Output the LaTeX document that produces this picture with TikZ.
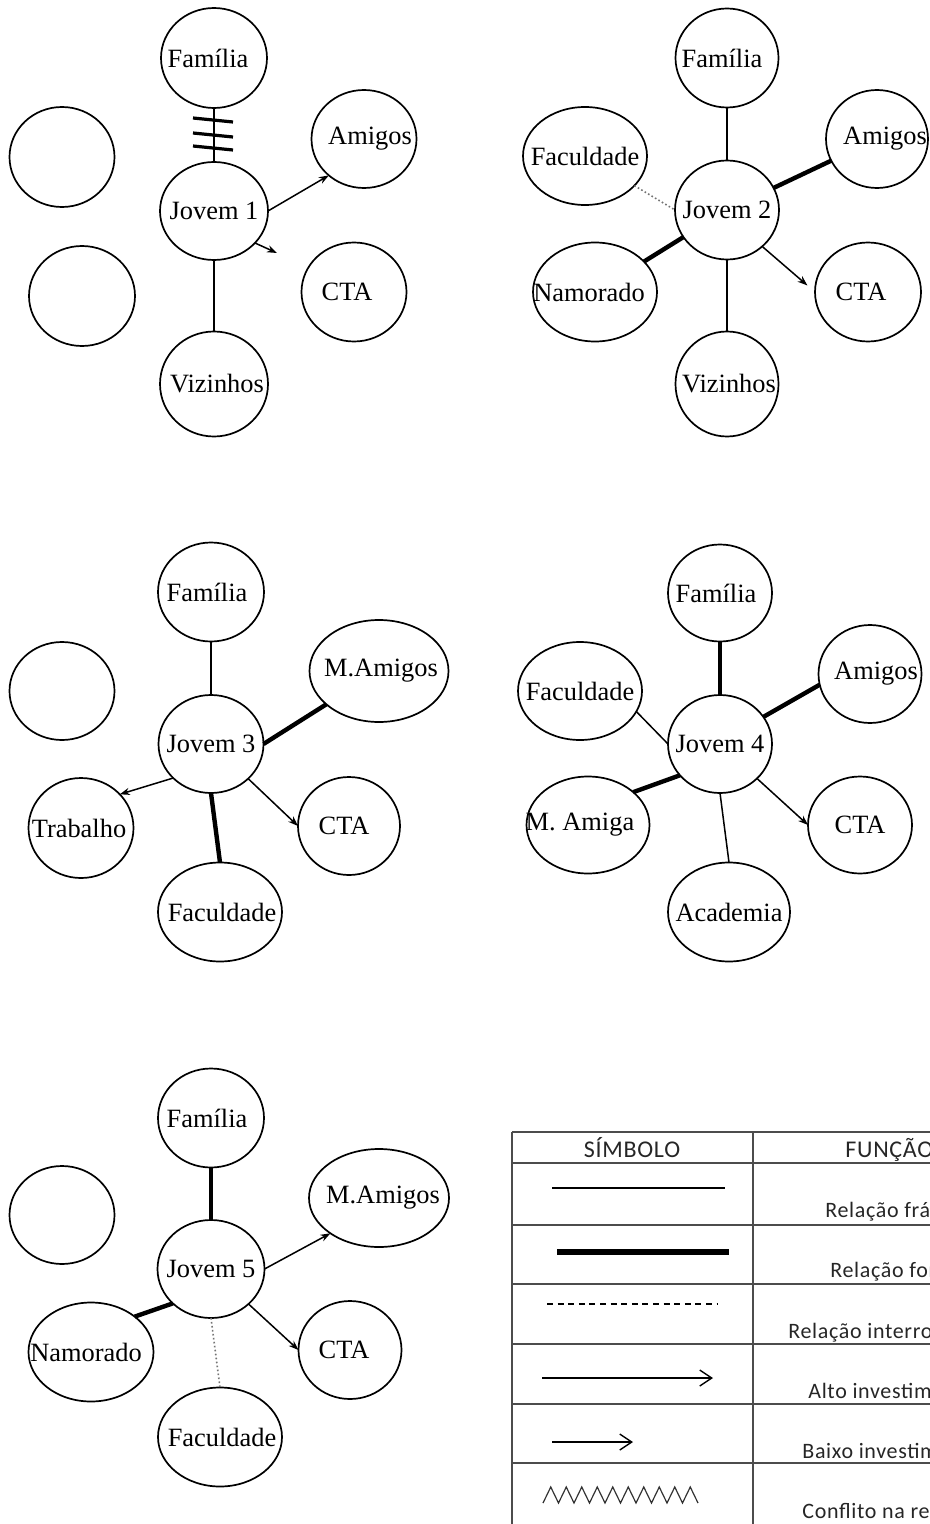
\documentclass[tikz,border=0pt]{standalone}
\usepackage{fontspec}
\setmainfont{Liberation Serif}
\newfontfamily\legfont{Carlito}[LetterSpace=3]
\usetikzlibrary{shapes.geometric,arrows.meta}
\newcommand\tx[2]{\makebox[0pt]{\hspace*{#1}#2\hspace*{-#1}}}
\begin{document}
\begin{tikzpicture}[x=0.5pt,y=-0.5pt,
  ell/.style={ellipse, draw, line width=0.85pt, inner sep=0pt, outer sep=0pt,
    font=\fontsize{13.2}{15}\selectfont},
  thinl/.style={line width=0.75pt},
  strong/.style={line width=2.2pt},
  arr/.style={line width=0.75pt, -{Stealth[length=5pt,width=3.6pt]}},
  dots/.style={line width=0.8pt, black!55, dash pattern=on 0.8pt off 1.2pt},
  hatch/.style={line width=1.6pt},
  tab/.style={line width=1pt, black!70},
  legsym/.style={line width=0.7pt},
  legtxt/.style={inner sep=0pt, anchor=base west, text=black!85,
    font=\legfont\fontsize{11}{13}\selectfont},
  leghead/.style={inner sep=0pt, text=black!85,
    font=\legfont\fontsize{12}{14}\selectfont}]
\useasboundingbox (0,0) rectangle (930,1524);

% ---------- Panel 1 ----------
\node[ell, minimum width=53pt, minimum height=50pt] (fam1) at (214,58) {\tx{-3pt}{Família}};
\node[ell, minimum width=54pt, minimum height=49pt] (j1) at (214,211) {\tx{0pt}{Jovem 1}};
\node[ell, minimum width=52.5pt, minimum height=49pt] (am1) at (364,139) {\tx{3pt}{Amigos}};
\node[ell, minimum width=52.5pt, minimum height=49.5pt] (cta1) at (354,292) {\tx{-3.5pt}{CTA}};
\node[ell, minimum width=54pt, minimum height=52.5pt] (viz1) at (214,384) {\tx{1.5pt}{Vizinhos}};
\node[ell, minimum width=52.5pt, minimum height=50pt] (e1a) at (62,157) {};
\node[ell, minimum width=53pt, minimum height=50pt] (e1b) at (82,296) {};
\coordinate (t1) at (277,253);
\draw[thinl] (fam1) -- (j1);
\draw[hatch] (193,118) -- (233,122);
\draw[hatch] (193,133) -- (233,137);
\draw[hatch] (193,146) -- (233,150);
\draw[arr] (j1.east) -- (am1.226);
\draw[arr] (j1.-38) -- (t1);
\draw[thinl] (j1) -- (viz1);

% ---------- Panel 2 ----------
\node[ell, minimum width=51.5pt, minimum height=49.5pt] (fam2) at (727,58) {\tx{-2.5pt}{Família}};
\node[ell, minimum width=51pt, minimum height=49pt] (am2) at (877,139) {\tx{4pt}{Amigos}};
\node[ell, minimum width=62pt, minimum height=49pt] (fac2) at (585,156) {\tx{0pt}{Faculdade}};
\node[ell, minimum width=52pt, minimum height=49.5pt] (j2) at (727,210) {\tx{0pt}{Jovem 2}};
\node[ell, minimum width=62pt, minimum height=49.5pt] (nam2) at (595,292) {\tx{-3pt}{Namorado}};
\node[ell, minimum width=53pt, minimum height=49.5pt] (cta2) at (868,292) {\tx{-3.5pt}{CTA}};
\node[ell, minimum width=51.5pt, minimum height=52.5pt] (viz2) at (727,384) {\tx{1pt}{Vizinhos}};
\draw[thinl] (fam2) -- (j2);
\draw[strong] (j2) -- (am2);
\draw[dots] (fac2) -- (j2.west);
\draw[strong] (j2) -- (nam2);
\draw[arr, shorten >=5pt] (j2.-46) -- (cta2.west);
\draw[thinl] (j2) -- (viz2);

% ---------- Panel 3 ----------
\node[ell, minimum width=53pt, minimum height=49.5pt] (fam3) at (211,592) {\tx{-2pt}{Família}};
\node[ell, minimum width=52.5pt, minimum height=49pt] (e3) at (62,691) {};
\node[ell, minimum width=69.5pt, minimum height=51pt] (mam3) at (379,671) {\tx{1pt}{M.Amigos}};
\node[ell, minimum width=52.5pt, minimum height=49pt] (j3) at (211,744) {\tx{0pt}{Jovem 3}};
\node[ell, minimum width=52.5pt, minimum height=50pt] (trab3) at (81,828) {\tx{-1pt}{Trabalho}};
\node[ell, minimum width=51pt, minimum height=49pt] (cta3) at (349,826) {\tx{-2.5pt}{CTA}};
\node[ell, minimum width=62pt, minimum height=49.5pt] (fac3) at (220,912) {\tx{1pt}{Faculdade}};
\draw[thinl] (fam3) -- (j3);
\draw[strong] (j3.east) -- (mam3);
\draw[arr] (j3.222) -- (trab3.41);
\draw[strong] (j3.south) -- (fac3.north);
\draw[arr] (j3.-43) -- (cta3.west);

% ---------- Panel 4 ----------
\node[ell, minimum width=52pt, minimum height=48.5pt] (fam4) at (720,593) {\tx{-2pt}{Família}};
\node[ell, minimum width=51.5pt, minimum height=49pt] (am4) at (870,674) {\tx{3pt}{Amigos}};
\node[ell, minimum width=62pt, minimum height=49pt] (fac4) at (580,691) {\tx{0pt}{Faculdade}};
\node[ell, minimum width=52pt, minimum height=49pt] (j4) at (720,744) {\tx{0pt}{Jovem 4}};
\node[ell, minimum width=61.5pt, minimum height=48.5pt] (mam4) at (588,825) {\tx{-4pt}{M. Amiga}};
\node[ell, minimum width=52pt, minimum height=48.5pt] (cta4) at (860,825) {\tx{0pt}{CTA}};
\node[ell, minimum width=61pt, minimum height=49.5pt] (acad4) at (729,912) {\tx{0pt}{Academia}};
\draw[strong] (fam4) -- (j4);
\draw[thinl] (fac4.-20) -- (j4.west);
\draw[strong] (j4.32) -- (am4.192);
\draw[strong] (j4.218) -- (mam4.36);
\draw[arr] (j4.-43) -- (cta4.west);
\draw[thinl] (j4.south) -- (acad4.north);

% ---------- Panel 5 ----------
\node[ell, minimum width=53pt, minimum height=49.5pt] (fam5) at (211,1118) {\tx{-2pt}{Família}};
\node[ell, minimum width=52.5pt, minimum height=49pt] (e5) at (62,1215) {};
\node[ell, minimum width=70pt, minimum height=49pt] (mam5) at (379,1198) {\tx{2pt}{M.Amigos}};
\node[ell, minimum width=53.5pt, minimum height=49pt] (j5) at (211,1269) {\tx{0pt}{Jovem 5}};
\node[ell, minimum width=62.5pt, minimum height=49.5pt] (nam5) at (91,1352) {\tx{-2.5pt}{Namorado}};
\node[ell, minimum width=51.5pt, minimum height=49pt] (cta5) at (350,1350) {\tx{-3pt}{CTA}};
\node[ell, minimum width=62pt, minimum height=49.5pt] (fac5) at (220,1437) {\tx{1pt}{Faculdade}};
\draw[strong] (fam5) -- (j5);
\draw[arr] (j5.east) -- (mam5.216);
\draw[strong] (j5.222) -- (nam5.39);
\draw[arr] (j5.-43) -- (cta5.west);
\draw[dots] (j5.south) -- (fac5.north);

% ---------- Legend table ----------
\begin{scope}
\clip (0,0) rectangle (930,1524);
\foreach \yy in {1132,1163,1225,1284,1344,1404,1463}
  \draw[tab] (512,\yy) -- (930,\yy);
\draw[tab] (512,1132) -- (512,1524);
\draw[tab] (753,1132) -- (753,1524);
\node[leghead, anchor=base] (hs) at (632,1157) {SÍMBOLO};
\node[leghead, anchor=base west] (hf) at (845,1157) {FUNÇÃO};
\draw[legsym] (552,1188) -- (725,1188);
\draw[line width=2.6pt] (557,1252) -- (729,1252);
\draw[line width=0.6pt, dash pattern=on 3pt off 2.3pt] (547,1304) -- (717,1304);
\draw[legsym, -{Straight Barb[length=6pt,width=8pt]}] (542,1378) -- (713,1378);
\draw[legsym, -{Straight Barb[length=6pt,width=8pt]}] (552,1442) -- (633,1442);
\draw[line width=0.6pt, black!80] (543,1503) \foreach \i in {1,...,10} { -- ++(7.75,-16) -- ++(7.75,16) };
\node[legtxt] (r1) at (825,1217) {Relação frágil};
\node[legtxt] (r2) at (830,1277) {Relação forte};
\node[legtxt] (r3) at (788,1338) {Relação interrompida};
\node[legtxt] (r4) at (808,1398) {Alto investimento};
\node[legtxt] (r5) at (802,1458) {Baixo investimento};
\node[legtxt] (r6) at (802,1518) {Conflito na relação};
\end{scope}
\end{tikzpicture}
\end{document}
